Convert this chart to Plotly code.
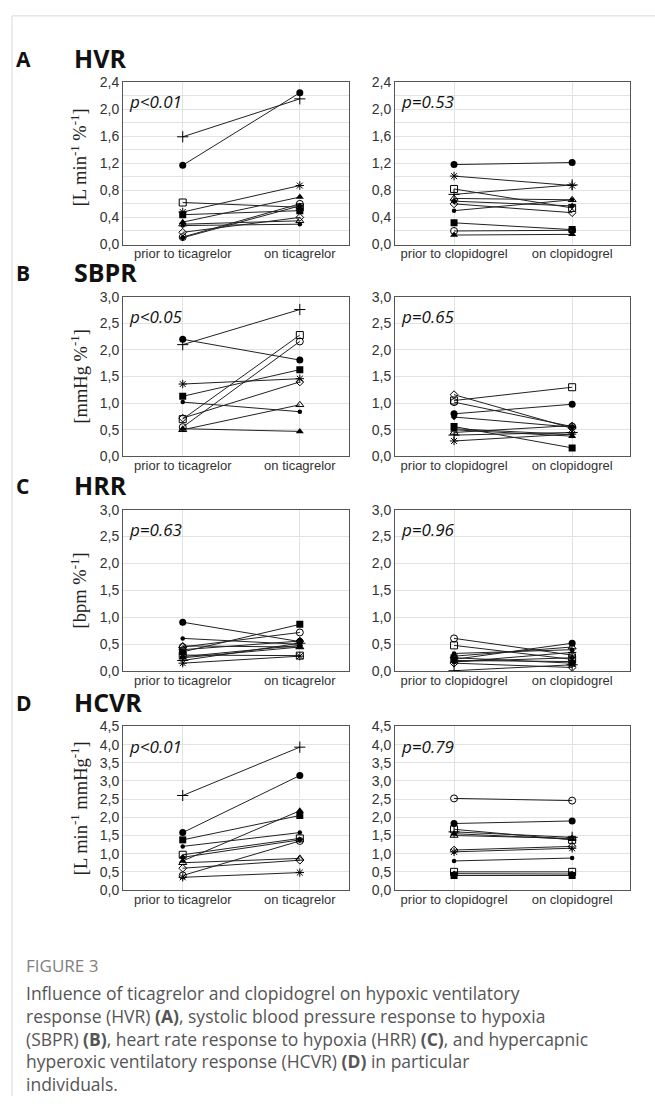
import plotly.graph_objects as go

W, H = 655, 1104

# ---------------- data ----------------
tica_categories = ["prior to ticagrelor", "on ticagrelor"]
clop_categories = ["prior to clopidogrel", "on clopidogrel"]

hvr_tica_prior = [1.17, 1.59, 0.62, 0.44, 0.48, 0.33, 0.30, 0.11, 0.28, 0.18, 0.10]
hvr_tica_on    = [2.24, 2.15, 0.55, 0.50, 0.87, 0.70, 0.35, 0.60, 0.30, 0.40, 0.57]
hvr_clop_prior = [1.18, 0.74, 0.82, 0.32, 1.01, 0.14, 0.68, 0.20, 0.50, 0.60, 0.64]
hvr_clop_on    = [1.21, 0.88, 0.54, 0.22, 0.87, 0.15, 0.66, 0.21, 0.66, 0.47, 0.57]

sbpr_tica_prior = [2.20, 2.10, 0.70, 1.13, 1.36, 0.52, 0.50, 0.55, 1.02, 0.72]
sbpr_tica_on    = [1.81, 2.76, 2.28, 1.63, 1.46, 0.47, 0.97, 2.16, 0.84, 1.40]
sbpr_clop_prior = [0.80, 0.40, 1.05, 0.56, 0.29, 0.50, 0.45, 1.02, 0.52, 1.16, 0.74]
sbpr_clop_on    = [0.98, 0.45, 1.30, 0.16, 0.42, 0.38, 0.58, 0.56, 0.41, 0.53, 0.55]

hrr_tica_prior = [0.91, 0.20, 0.30, 0.36, 0.15, 0.25, 0.47, 0.45, 0.61, 0.40, 0.27]
hrr_tica_on    = [0.55, 0.52, 0.29, 0.87, 0.28, 0.45, 0.45, 0.72, 0.50, 0.56, 0.48]
hrr_clop_prior = [0.22, 0.01, 0.48, 0.25, 0.17, 0.20, 0.28, 0.61, 0.33, 0.15, 0.18]
hrr_clop_on    = [0.52, 0.12, 0.22, 0.15, 0.35, 0.18, 0.45, 0.30, 0.40, 0.07, 0.25]

hcvr_tica_prior = [1.58, 2.60, 0.97, 1.38, 0.35, 0.80, 0.75, 0.40, 1.20, 0.60, 0.90]
hcvr_tica_on    = [3.15, 3.93, 1.42, 2.05, 0.48, 2.18, 0.87, 1.35, 1.58, 0.82, 1.38]
hcvr_clop_prior = [1.83, 1.60, 1.67, 0.40, 1.05, 1.55, 1.50, 2.52, 0.80, 1.10, 0.45, 0.50]
hcvr_clop_on    = [1.90, 1.45, 1.38, 0.40, 1.15, 1.40, 1.42, 2.46, 0.88, 1.20, 0.44, 0.50]

p_values = ["p<0.01", "p=0.53", "p<0.05", "p=0.65", "p=0.63", "p=0.96", "p<0.01", "p=0.79"]
panel_letters = ["A", "B", "C", "D"]
panel_names = ["HVR", "SBPR", "HRR", "HCVR"]
y_titles = ["[L min<sup>-1</sup> %<sup>-1</sup>]", "[mmHg %<sup>-1</sup>]",
            "[bpm %<sup>-1</sup>]", "[L min<sup>-1</sup> mmHg<sup>-1</sup>]"]
y_max = [2.4, 3.0, 3.0, 4.5]
y_grid_step = [0.2, 0.5, 0.5, 0.5]
y_label_step = [0.4, 0.5, 0.5, 0.5]

caption_head = "FIGURE 3"
caption_lines = [
    "Influence of ticagrelor and clopidogrel on hypoxic ventilatory",
    "response (HVR) <b>(A)</b>, systolic blood pressure response to hypoxia",
    "(SBPR) <b>(B)</b>, heart rate response to hypoxia (HRR) <b>(C)</b>, and hypercapnic",
    "hyperoxic ventilatory response (HCVR) <b>(D)</b> in particular",
    "individuals.",
]

# ---------------- styles ----------------
marker_styles = [
    dict(symbol="circle", size=7, color="black"),
    dict(symbol="cross-thin-open", size=8, color="black", line=dict(width=1, color="black")),
    dict(symbol="square-open", size=7, color="black", line=dict(width=1, color="black")),
    dict(symbol="square", size=7, color="black"),
    dict(symbol="asterisk-open", size=7, color="black", line=dict(width=1, color="black")),
    dict(symbol="triangle-up", size=7, color="black"),
    dict(symbol="triangle-up-open", size=7, color="black", line=dict(width=1, color="black")),
    dict(symbol="circle-open", size=7, color="black", line=dict(width=1, color="black")),
    dict(symbol="circle", size=4.5, color="black"),
    dict(symbol="diamond-open", size=6, color="black", line=dict(width=1, color="black")),
    dict(symbol="diamond", size=5, color="black"),
    dict(symbol="square-open", size=7, color="black", line=dict(width=1, color="black")),
]

panels = [
    (hvr_tica_prior, hvr_tica_on, hvr_clop_prior, hvr_clop_on),
    (sbpr_tica_prior, sbpr_tica_on, sbpr_clop_prior, sbpr_clop_on),
    (hrr_tica_prior, hrr_tica_on, hrr_clop_prior, hrr_clop_on),
    (hcvr_tica_prior, hcvr_tica_on, hcvr_clop_prior, hcvr_clop_on),
]

# layout geometry in pixels
row_top = [75, 293, 509, 729]
row_bot = [240, 455, 673, 895]
col_left = [123, 395]
col_right = [349, 630]
col_xrange = [[-0.51, 1.42], [-0.50, 1.49]]
title_y = [51, 268, 484, 704]
ytitle_shift = [-6, 0, 0, 0]


def px(x):
    return x / W


def py(y):
    return 1 - y / H


fig = go.Figure()
layout = dict(
    width=W, height=H, margin=dict(l=0, r=0, t=0, b=0),
    paper_bgcolor="white", plot_bgcolor="white", showlegend=False,
)
annotations = []
shapes = []
GRID = "#e2e2e2"

ax = 0
for r in range(4):
    for c in range(2):
        ax += 1
        sfx = "" if ax == 1 else str(ax)
        prior, on = panels[r][2 * c], panels[r][2 * c + 1]
        for i, (a, b) in enumerate(zip(prior, on)):
            fig.add_trace(go.Scatter(
                x=[0, 1], y=[a, b], mode="lines+markers",
                line=dict(color="#222", width=1),
                marker=marker_styles[i],
                xaxis="x" + sfx, yaxis="y" + sfx, hoverinfo="skip",
            ))
        cats = tica_categories if c == 0 else clop_categories
        nmaj = int(round(y_max[r] / y_label_step[r]))
        tv = [round(k * y_label_step[r], 2) for k in range(nmaj + 1)]
        tt = [f"{v:.1f}".replace(".", ",") for v in tv]
        nmin = int(round(y_max[r] / y_grid_step[r]))
        mv = [round(k * y_grid_step[r], 2) for k in range(nmin + 1)]
        layout["xaxis" + sfx] = dict(
            domain=[px(col_left[c]), px(col_right[c])],
            anchor="y" + sfx, range=col_xrange[c],
            tickvals=[0, 1], ticktext=cats,
            showgrid=True, gridcolor=GRID, gridwidth=1,
            showline=True, mirror=True, linecolor="#555", linewidth=1,
            ticks="", zeroline=False, ticklabelstandoff=-3,
            tickfont=dict(family="Liberation Sans, Arial", size=13, color="#333"),
            fixedrange=True,
        )
        layout["yaxis" + sfx] = dict(
            domain=[py(row_bot[r]), py(row_top[r])],
            anchor="x" + sfx, range=[0, y_max[r]],
            tickvals=tv, ticktext=tt,
            minor=dict(tickvals=mv, showgrid=True, gridcolor=GRID, gridwidth=1, ticks=""),
            showgrid=True, gridcolor=GRID, gridwidth=1,
            showline=True, mirror=True, linecolor="#555", linewidth=1,
            ticks="", zeroline=False,
            tickfont=dict(family="Liberation Sans, Arial", size=14, color="#333"),
            fixedrange=True,
        )
        annotations.append(dict(
            x=px(col_left[c] + 4), y=py(row_top[r] + 20), xref="paper", yref="paper",
            xanchor="left", yanchor="middle", showarrow=False,
            text=p_values[ax - 1],
            font=dict(family="Open Sans, sans-serif", size=17, color="#111", style="italic"),
        ))
    annotations.append(dict(
        x=px(14), y=py(title_y[r] + 1), xref="paper", yref="paper",
        xanchor="left", yanchor="middle", showarrow=False,
        text=panel_letters[r],
        font=dict(family="Open Sans, sans-serif", size=21, color="#111", weight="bold"),
    ))
    annotations.append(dict(
        x=px(72), y=py(title_y[r]), xref="paper", yref="paper",
        xanchor="left", yanchor="middle", showarrow=False,
        text=panel_names[r],
        font=dict(family="Open Sans, sans-serif", size=25, color="#111", weight="bold"),
    ))
    annotations.append(dict(
        x=px(79), y=py((row_top[r] + row_bot[r]) / 2 + ytitle_shift[r]),
        xref="paper", yref="paper",
        xanchor="center", yanchor="middle", showarrow=False, textangle=-90,
        text=y_titles[r],
        font=dict(family="Liberation Serif, Times New Roman, serif", size=18.5, color="#222"),
    ))

annotations.append(dict(
    x=px(24), y=py(972), xref="paper", yref="paper",
    xanchor="left", yanchor="middle", showarrow=False,
    text=caption_head,
    font=dict(family="Open Sans, sans-serif", size=17, color="#808080"),
))
annotations.append(dict(
    x=px(24), y=py(985), xref="paper", yref="paper",
    xanchor="left", yanchor="top", align="left", showarrow=False,
    text="<br>".join(caption_lines),
    font=dict(family="Open Sans, sans-serif", size=17.5, color="#555"),
))

shapes.append(dict(type="line", xref="paper", yref="paper",
                   x0=px(12), x1=1, y0=py(8), y1=py(8),
                   line=dict(color="#d8d8d8", width=1)))
shapes.append(dict(type="line", xref="paper", yref="paper",
                   x0=px(12), x1=px(12), y0=py(8), y1=0,
                   line=dict(color="#d8d8d8", width=1)))

layout["annotations"] = annotations
layout["shapes"] = shapes
fig.update_layout(**layout)
fig.write_html("out.html")
